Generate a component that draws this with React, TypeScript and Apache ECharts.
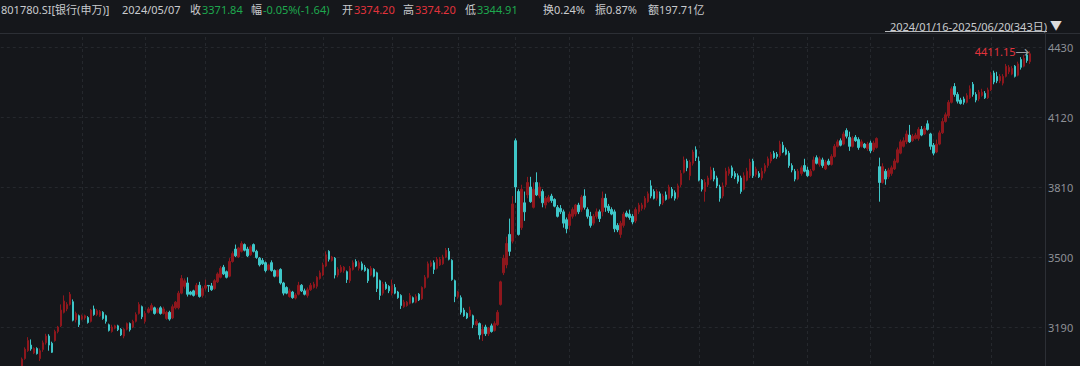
import React, { useEffect, useRef } from 'react';
import * as echarts from 'echarts';

// ---------- data ----------
// trading days per month and candles as [open, close, low, high]
const d2401 = [16, 17, 18, 19, 22, 23, 24, 25, 26, 29, 30, 31];
const k2401 = [
  [2980, 2965, 2955, 2990], [2960, 2930, 2920, 2965], [2925, 2952, 2915, 2960], [2950, 2945, 2935, 2962],
  [2940, 2905, 2895, 2945], [2905, 2932, 2895, 2940], [2935, 2990, 2928, 3000], [2995, 3048, 2990, 3055],
  [3050, 3092, 3045, 3100], [3085, 3130, 3080, 3145], [3110, 3093, 3085, 3135], [3075, 3095, 3070, 3100],
];
const d2402 = [1, 2, 5, 6, 7, 8, 19, 20, 21, 22, 23, 26, 27, 28, 29];
const k2402 = [
  [3095, 3072, 3068, 3100], [3050, 3085, 3040, 3095], [3090, 3120, 3080, 3130], [3120, 3150, 3112, 3160],
  [3150, 3110, 3085, 3158], [3118, 3078, 3075, 3125], [3130, 3170, 3125, 3178], [3170, 3190, 3162, 3195],
  [3195, 3265, 3190, 3290], [3255, 3305, 3250, 3330], [3270, 3290, 3260, 3300], [3290, 3335, 3285, 3345],
  [3302, 3220, 3215, 3312], [3222, 3250, 3210, 3258], [3240, 3200, 3190, 3245],
];
const d2403 = [1, 4, 5, 6, 7, 8, 11, 12, 13, 14, 15, 18, 19, 20, 21, 22, 25, 26, 27, 28, 29];
const k2403 = [
  [3225, 3238, 3220, 3245], [3230, 3240, 3222, 3245], [3232, 3210, 3205, 3238], [3215, 3265, 3210, 3270],
  [3270, 3245, 3240, 3285], [3245, 3262, 3238, 3270], [3240, 3258, 3235, 3265], [3255, 3228, 3222, 3260],
  [3240, 3215, 3205, 3245], [3200, 3175, 3170, 3205], [3170, 3190, 3165, 3200], [3185, 3195, 3180, 3200],
  [3195, 3178, 3172, 3200], [3180, 3155, 3150, 3185], [3150, 3180, 3140, 3185], [3180, 3205, 3175, 3210],
  [3205, 3178, 3170, 3210], [3190, 3215, 3185, 3222], [3215, 3245, 3210, 3255], [3250, 3290, 3245, 3300],
  [3280, 3235, 3225, 3285],
];
const d2404 = [1, 2, 3, 8, 9, 10, 11, 12, 15, 16, 17, 18, 19, 22, 23, 24, 25, 26, 29, 30];
const k2404 = [
  [3215, 3250, 3205, 3260], [3255, 3270, 3250, 3278], [3265, 3285, 3260, 3295], [3275, 3250, 3245, 3280],
  [3255, 3268, 3250, 3275], [3275, 3250, 3245, 3282], [3250, 3270, 3245, 3280], [3228, 3255, 3222, 3262],
  [3255, 3225, 3218, 3262], [3230, 3280, 3225, 3290], [3275, 3300, 3268, 3305], [3275, 3340, 3268, 3350],
  [3340, 3405, 3335, 3420], [3370, 3395, 3360, 3405], [3385, 3335, 3325, 3410], [3345, 3335, 3330, 3350],
  [3350, 3330, 3325, 3355], [3335, 3375, 3330, 3385], [3375, 3325, 3320, 3390], [3330, 3360, 3320, 3370],
];
const d2405 = [6, 7, 8, 9, 10, 13, 14, 15, 16, 17, 20, 21, 22, 23, 24, 27, 28, 29, 30, 31];
const k2405 = [
  [3362, 3373.48, 3352, 3400], [3374.2, 3371.84, 3344.91, 3374.2], [3372, 3355, 3350, 3385], [3360, 3395, 3355, 3402],
  [3390, 3425, 3385, 3432], [3410, 3450, 3405, 3460], [3455, 3425, 3420, 3465], [3435, 3410, 3405, 3440],
  [3415, 3480, 3410, 3495], [3480, 3515, 3475, 3525], [3535, 3505, 3500, 3555], [3500, 3540, 3495, 3545],
  [3525, 3560, 3520, 3570], [3555, 3530, 3525, 3560], [3535, 3505, 3500, 3545], [3510, 3545, 3505, 3552],
  [3555, 3525, 3520, 3560], [3525, 3498, 3492, 3532], [3495, 3465, 3458, 3500], [3485, 3470, 3465, 3495],
];
const d2406 = [3, 4, 5, 6, 7, 11, 12, 13, 14, 17, 18, 19, 20, 21, 24, 25, 26, 27, 28];
const k2406 = [
  [3475, 3440, 3432, 3480], [3445, 3465, 3440, 3470], [3475, 3440, 3435, 3485], [3440, 3415, 3410, 3445],
  [3415, 3440, 3410, 3445], [3445, 3385, 3378, 3450], [3385, 3340, 3330, 3390], [3365, 3340, 3335, 3370],
  [3325, 3350, 3320, 3360], [3345, 3320, 3315, 3350], [3318, 3332, 3312, 3340], [3335, 3375, 3330, 3390],
  [3375, 3350, 3345, 3380], [3350, 3335, 3330, 3360], [3330, 3355, 3320, 3365], [3355, 3375, 3350, 3385],
  [3365, 3380, 3360, 3390], [3370, 3410, 3360, 3415], [3405, 3430, 3400, 3440],
];
const d2407 = [1, 2, 3, 4, 5, 8, 9, 10, 11, 12, 15, 16, 17, 18, 19, 22, 23, 24, 25, 26, 29, 30, 31];
const k2407 = [
  [3420, 3465, 3415, 3475], [3460, 3510, 3455, 3525], [3525, 3490, 3480, 3530], [3485, 3500, 3480, 3505],
  [3495, 3420, 3405, 3500], [3420, 3445, 3410, 3455], [3435, 3455, 3430, 3465], [3440, 3455, 3430, 3460],
  [3435, 3400, 3385, 3440], [3395, 3450, 3385, 3460], [3445, 3475, 3440, 3485], [3480, 3460, 3455, 3490],
  [3450, 3475, 3440, 3485], [3470, 3445, 3440, 3480], [3455, 3440, 3435, 3465], [3445, 3395, 3385, 3450],
  [3420, 3450, 3415, 3460], [3445, 3415, 3410, 3450], [3430, 3360, 3345, 3435], [3395, 3330, 3310, 3400],
  [3340, 3380, 3330, 3390], [3380, 3360, 3355, 3390], [3370, 3350, 3340, 3375],
];
const d2408 = [1, 2, 5, 6, 7, 8, 9, 12, 13, 14, 15, 16, 19, 20, 21, 22, 23, 26, 27, 28, 29, 30];
const k2408 = [
  [3340, 3375, 3330, 3400], [3365, 3340, 3335, 3380], [3345, 3320, 3315, 3350], [3330, 3285, 3270, 3335],
  [3280, 3300, 3275, 3310], [3285, 3300, 3280, 3305], [3295, 3330, 3290, 3340], [3320, 3300, 3295, 3325],
  [3300, 3325, 3295, 3335], [3335, 3310, 3305, 3340], [3315, 3365, 3310, 3370], [3365, 3410, 3360, 3420],
  [3410, 3470, 3405, 3480], [3460, 3475, 3455, 3485], [3475, 3445, 3425, 3485], [3450, 3490, 3445, 3500],
  [3465, 3490, 3460, 3500], [3470, 3500, 3465, 3510], [3500, 3530, 3495, 3540], [3525, 3490, 3485, 3540],
  [3485, 3400, 3395, 3490], [3395, 3325, 3300, 3400],
];
const d2409 = [2, 3, 4, 5, 6, 9, 10, 11, 12, 13, 18, 19, 20, 23, 24, 25, 26, 27, 30];
const k2409 = [
  [3325, 3345, 3315, 3350], [3320, 3255, 3245, 3330], [3265, 3240, 3235, 3275], [3250, 3230, 3225, 3255],
  [3240, 3265, 3235, 3280], [3240, 3200, 3185, 3245], [3200, 3215, 3195, 3225], [3205, 3155, 3135, 3210],
  [3160, 3180, 3128, 3200], [3190, 3160, 3150, 3200], [3160, 3185, 3150, 3190], [3195, 3170, 3165, 3205],
  [3175, 3205, 3170, 3215], [3200, 3255, 3195, 3265], [3290, 3390, 3285, 3395], [3430, 3495, 3420, 3510],
  [3465, 3560, 3450, 3590], [3600, 3525, 3505, 3670], [3570, 3735, 3560, 3770],
];
const d2410 = [8, 9, 10, 11, 14, 15, 16, 17, 18, 21, 22, 23, 24, 25, 28, 29, 30, 31];
const k2410 = [
  [4015, 3810, 3740, 4025], [3790, 3600, 3595, 3800], [3630, 3800, 3620, 3820], [3740, 3700, 3660, 3790],
  [3775, 3830, 3760, 3855], [3810, 3745, 3740, 3855], [3720, 3800, 3715, 3830], [3830, 3775, 3770, 3875],
  [3770, 3810, 3760, 3830], [3790, 3740, 3720, 3800], [3730, 3760, 3715, 3770], [3745, 3765, 3740, 3775],
  [3770, 3750, 3740, 3780], [3755, 3725, 3720, 3760], [3720, 3680, 3675, 3730], [3715, 3700, 3690, 3730],
  [3700, 3650, 3630, 3710], [3665, 3625, 3605, 3675],
];
const d2411 = [1, 4, 5, 6, 7, 8, 11, 12, 13, 14, 15, 18, 19, 20, 21, 22, 25, 26, 27, 28, 29];
const k2411 = [
  [3640, 3690, 3620, 3700], [3680, 3710, 3670, 3720], [3690, 3730, 3680, 3735], [3730, 3700, 3690, 3740],
  [3710, 3765, 3700, 3775], [3770, 3720, 3710, 3800], [3710, 3680, 3670, 3720], [3680, 3640, 3630, 3700],
  [3650, 3680, 3640, 3690], [3680, 3700, 3670, 3715], [3700, 3670, 3655, 3710], [3700, 3760, 3680, 3790],
  [3760, 3720, 3700, 3780], [3725, 3705, 3695, 3735], [3710, 3690, 3685, 3720], [3700, 3625, 3610, 3710],
  [3640, 3620, 3610, 3650], [3600, 3650, 3585, 3660], [3640, 3690, 3630, 3700], [3695, 3680, 3675, 3705],
  [3690, 3675, 3665, 3710],
];
const d2412 = [2, 3, 4, 5, 6, 9, 10, 11, 12, 13, 16, 17, 18, 19, 20, 23, 24, 25, 26, 27, 30, 31];
const k2412 = [
  [3680, 3655, 3645, 3690], [3660, 3710, 3650, 3720], [3700, 3730, 3690, 3740], [3715, 3730, 3705, 3740],
  [3720, 3760, 3710, 3770], [3745, 3780, 3740, 3790], [3815, 3770, 3760, 3840], [3790, 3760, 3755, 3800],
  [3760, 3790, 3750, 3800], [3780, 3735, 3725, 3790], [3740, 3770, 3730, 3780], [3775, 3755, 3750, 3790],
  [3760, 3810, 3755, 3820], [3800, 3770, 3760, 3810], [3785, 3760, 3750, 3795], [3765, 3815, 3755, 3825],
  [3820, 3870, 3810, 3885], [3875, 3930, 3870, 3945], [3925, 3895, 3880, 3935], [3860, 3920, 3840, 3930],
  [3915, 3965, 3905, 3975], [3975, 3940, 3925, 3990],
];
const d2501 = [2, 3, 6, 7, 8, 9, 10, 13, 14, 15, 16, 17, 20, 21, 22, 23, 24, 27];
const k2501 = [
  [3925, 3840, 3835, 3945], [3840, 3800, 3790, 3845], [3790, 3830, 3745, 3845], [3820, 3850, 3810, 3860],
  [3845, 3885, 3840, 3900], [3880, 3845, 3835, 3895], [3850, 3815, 3805, 3860], [3810, 3760, 3745, 3820],
  [3770, 3815, 3760, 3830], [3820, 3880, 3810, 3895], [3870, 3890, 3860, 3900], [3895, 3860, 3850, 3905],
  [3870, 3855, 3845, 3880], [3860, 3835, 3825, 3870], [3850, 3790, 3780, 3860], [3800, 3860, 3795, 3875],
  [3840, 3880, 3835, 3895], [3860, 3920, 3850, 3935],
];
const d2502 = [5, 6, 7, 10, 11, 12, 13, 14, 17, 18, 19, 20, 21, 24, 25, 26, 27, 28];
const k2502 = [
  [3925, 3860, 3850, 3935], [3865, 3890, 3855, 3900], [3870, 3855, 3850, 3880], [3850, 3880, 3840, 3895],
  [3880, 3905, 3870, 3915], [3905, 3935, 3895, 3945], [3925, 3955, 3915, 3965], [3960, 3940, 3935, 3970],
  [3955, 3945, 3935, 3965], [3950, 4000, 3940, 4015], [3995, 3965, 3960, 4010], [3975, 3955, 3950, 3985],
  [3960, 3905, 3895, 3970], [3905, 3885, 3875, 3915], [3880, 3845, 3835, 3890], [3845, 3880, 3840, 3890],
  [3870, 3895, 3860, 3905], [3905, 3880, 3875, 3935],
];
const d2503 = [3, 4, 5, 6, 7, 10, 11, 12, 13, 14, 17, 18, 19, 20, 21, 24, 25, 26, 27, 28, 31];
const k2503 = [
  [3885, 3860, 3855, 3900], [3860, 3880, 3855, 3890], [3885, 3930, 3880, 3945], [3940, 3915, 3910, 3950],
  [3910, 3935, 3900, 3945], [3930, 3905, 3895, 3940], [3890, 3920, 3885, 3930], [3925, 3910, 3905, 3935],
  [3910, 3945, 3905, 3955], [3945, 3990, 3940, 4000], [3990, 4010, 3985, 4020], [4015, 3995, 3990, 4025],
  [4000, 4045, 3995, 4055], [4060, 4035, 4025, 4070], [4030, 3990, 3970, 4055], [3990, 4025, 3985, 4035],
  [4030, 4015, 4010, 4040], [4020, 3985, 3975, 4030], [3990, 4010, 3985, 4020], [4000, 3985, 3980, 4005],
  [3980, 4000, 3970, 4010],
];
const d2504 = [1, 2, 3, 7, 8, 9, 10, 11, 14, 15, 16, 17, 18, 21, 22, 23, 24, 25, 28, 29, 30];
const k2504 = [
  [4005, 3970, 3960, 4015], [3975, 4005, 3965, 4015], [3985, 4025, 3980, 4030], [3900, 3830, 3745, 3940],
  [3830, 3900, 3825, 3915], [3880, 3845, 3820, 3890], [3855, 3885, 3845, 3895], [3870, 3895, 3860, 3905],
  [3890, 3925, 3885, 3935], [3920, 3975, 3915, 3985], [3960, 4010, 3955, 4020], [3990, 4015, 3985, 4030],
  [4010, 4045, 4000, 4060], [4040, 4010, 4005, 4085], [4015, 4035, 4010, 4045], [4025, 4040, 4020, 4050],
  [4025, 4065, 4015, 4075], [4065, 4040, 4035, 4080], [4045, 4070, 4040, 4080], [4090, 4065, 4060, 4105],
  [4045, 3990, 3975, 4050],
];
const d2505 = [6, 7, 8, 9, 12, 13, 14, 15, 16, 19, 20, 21, 22, 23, 26, 27, 28, 29, 30];
const k2505 = [
  [3995, 3960, 3950, 4005], [3965, 4000, 3960, 4020], [4000, 4050, 3995, 4060], [4050, 4100, 4045, 4115],
  [4100, 4130, 4095, 4140], [4125, 4185, 4115, 4195], [4185, 4245, 4180, 4255], [4255, 4220, 4210, 4270],
  [4220, 4190, 4180, 4230], [4195, 4180, 4175, 4205], [4200, 4185, 4175, 4210], [4185, 4215, 4180, 4225],
  [4205, 4245, 4200, 4260], [4265, 4220, 4210, 4275], [4220, 4195, 4185, 4230], [4200, 4230, 4190, 4240],
  [4215, 4230, 4210, 4245], [4225, 4205, 4200, 4235], [4205, 4240, 4200, 4250],
];
const d2506 = [3, 4, 5, 6, 9, 10, 11, 12, 13, 16, 17, 18, 19, 20];
const k2506 = [
  [4240, 4305, 4235, 4320], [4315, 4275, 4265, 4325], [4300, 4280, 4270, 4320], [4280, 4300, 4270, 4310],
  [4270, 4300, 4260, 4310], [4300, 4345, 4295, 4355], [4320, 4340, 4310, 4350], [4310, 4335, 4305, 4345],
  [4345, 4300, 4295, 4350], [4305, 4355, 4300, 4365], [4375, 4340, 4330, 4385], [4345, 4380, 4340, 4395],
  [4395, 4370, 4360, 4405], [4365, 4400, 4355, 4411.15],
];

const months: [string, number[], number[][]][] = [
  ['2024/01', d2401, k2401], ['2024/02', d2402, k2402], ['2024/03', d2403, k2403], ['2024/04', d2404, k2404],
  ['2024/05', d2405, k2405], ['2024/06', d2406, k2406], ['2024/07', d2407, k2407], ['2024/08', d2408, k2408],
  ['2024/09', d2409, k2409], ['2024/10', d2410, k2410], ['2024/11', d2411, k2411], ['2024/12', d2412, k2412],
  ['2025/01', d2501, k2501], ['2025/02', d2502, k2502], ['2025/03', d2503, k2503], ['2025/04', d2504, k2504],
  ['2025/05', d2505, k2505], ['2025/06', d2506, k2506],
];
const gridFromMonth = '2024/03';
const yTicks = [3190, 3500, 3810, 4120, 4430];
const emptySlots = 5;

const headerTitle = '801780.SI[银行(申万)]';
const headerDate = '2024/05/07';
const headerItems: [string, string, string][] = [
  ['收', '3371.84', 'down'], ['幅', '-0.05%(-1.64)', 'down'], ['开', '3374.20', 'up'],
  ['高', '3374.20', 'up'], ['低', '3344.91', 'down'],
];
const headerStats = ['换0.24%', '振0.87%', '额197.71亿'];
const rangeLabel = '2024/01/16-2025/06/20(343日)';

// ---------- styles ----------
const BG = '#15171b';
const UP = '#8e171d';
const DOWN = '#3ec6c8';
const TXT = '#c9cbce';
const RED = '#e2333c';
const GREEN = '#1ea84e';
const GRID = '#25282d';
const LINE = '#2c2f35';
const FONT = "'Noto Sans', 'Noto Sans CJK SC', sans-serif";
const OFF = 40;

export default function App() {
  const ref = useRef<HTMLDivElement>(null);
  useEffect(() => {
    if (!ref.current) return;
    const chart = echarts.init(ref.current, null, { renderer: 'svg' });

    const categories: string[] = [];
    const candles: number[][] = [];
    const gridStarts = new Set<number>();
    months.forEach(([ym, days, ks]) => {
      if (ym >= gridFromMonth) gridStarts.add(categories.length);
      days.forEach((d, i) => {
        categories.push(`${ym}/${String(d).padStart(2, '0')}`);
        candles.push(ks[i]);
      });
    });
    for (let i = 0; i < emptySlots; i++) categories.push(`_${i}`);

    const step = yTicks[1] - yTicks[0];

    const hText = (text: string, x: number, fill: string, extra: any = {}) => ({
      type: 'text', x, y: OFF + 9, z: 102, silent: true,
      style: { text, fill, fontSize: 11, fontFamily: FONT, textVerticalAlign: 'middle', ...extra },
    });
    const labelX = [190, 251, 342, 403, 465];
    const valueX = [202, 263, 354, 415, 477];
    const statX = [543, 595, 648];

    const graphics: any[] = [
      { type: 'rect', z: 100, silent: true, shape: { x: 0, y: 0, width: 1080, height: OFF + 33 }, style: { fill: BG } },
      { type: 'line', z: 101, silent: true, shape: { x1: 0, y1: OFF + 33.5, x2: 1080, y2: OFF + 33.5 }, style: { stroke: LINE, lineWidth: 1 } },
      hText(headerTitle, 1, TXT),
      hText(headerDate, 122, TXT),
    ];
    headerItems.forEach(([lab, val, dir], i) => {
      graphics.push(hText(lab, labelX[i], TXT));
      graphics.push(hText(val, valueX[i], dir === 'up' ? RED : GREEN));
    });
    headerStats.forEach((s, i) => graphics.push(hText(s, statX[i], TXT)));
    graphics.push({
      type: 'text', x: 1047, y: OFF + 26, z: 102, silent: true,
      style: { text: rangeLabel, fill: TXT, fontSize: 11, fontFamily: FONT, textAlign: 'right', textVerticalAlign: 'middle' },
    });
    graphics.push({ type: 'line', z: 102, silent: true, shape: { x1: 885, y1: OFF + 31.5, x2: 1047, y2: OFF + 31.5 }, style: { stroke: '#b8babd', lineWidth: 1 } });
    graphics.push({
      type: 'text', x: 1050, y: OFF + 25, z: 102, silent: true,
      style: { text: '▼', fill: '#dcdcdc', fontSize: 12, fontFamily: FONT, textVerticalAlign: 'middle' },
    });

    chart.setOption({
      animation: false,
      backgroundColor: BG,
      grid: { left: 0.8, right: 35, top: 17, bottom: 23 },
      xAxis: {
        type: 'category',
        data: categories,
        boundaryGap: false,
        axisLine: { show: false },
        axisTick: { show: false },
        axisLabel: { show: false },
        splitLine: {
          show: true,
          interval: (index: number) => gridStarts.has(index),
          lineStyle: { color: GRID, type: [3, 3], width: 1 },
        },
      },
      yAxis: {
        type: 'value',
        position: 'right',
        scale: true,
        min: yTicks[0] - step,
        max: yTicks[yTicks.length - 1] + step,
        interval: step,
        axisLine: { show: true, lineStyle: { color: LINE } },
        axisTick: { show: false },
        axisLabel: {
          color: '#8e9197', fontSize: 11, fontFamily: FONT, margin: 3,
          showMinLabel: false, showMaxLabel: false,
          formatter: (v: number) => (yTicks.includes(v) ? String(v) : ''),
        },
        splitLine: { show: true, lineStyle: { color: GRID, type: [3, 3], width: 1 } },
      },
      graphic: graphics,
      series: [
        {
          type: 'candlestick',
          data: candles,
          barWidth: 2,
          itemStyle: { color: UP, color0: DOWN, borderColor: UP, borderColor0: DOWN, borderWidth: 1 },
          markPoint: {
            symbol: 'circle',
            symbolSize: 1,
            silent: true,
            itemStyle: { color: 'rgba(0,0,0,0)' },
            data: [{ type: 'max', valueDim: 'highest' }],
            label: {
              show: true,
              position: 'left',
              distance: 0,
              formatter: (p: any) => `{v|${Number(p.value).toFixed(2)}}{a|→}`,
              rich: {
                v: { color: RED, fontSize: 11, fontFamily: FONT },
                a: { color: '#9a9c9f', fontSize: 14, fontFamily: FONT },
              },
            },
          },
        },
      ],
    });
    return () => chart.dispose();
  }, []);

  return (
    <div style={{ position: 'fixed', left: 0, top: 0, width: 1080, height: 366, overflow: 'hidden', background: BG }}>
      <div ref={ref} style={{ position: 'absolute', left: 0, top: -OFF, width: 1080, height: 460 }} />
    </div>
  );
}
